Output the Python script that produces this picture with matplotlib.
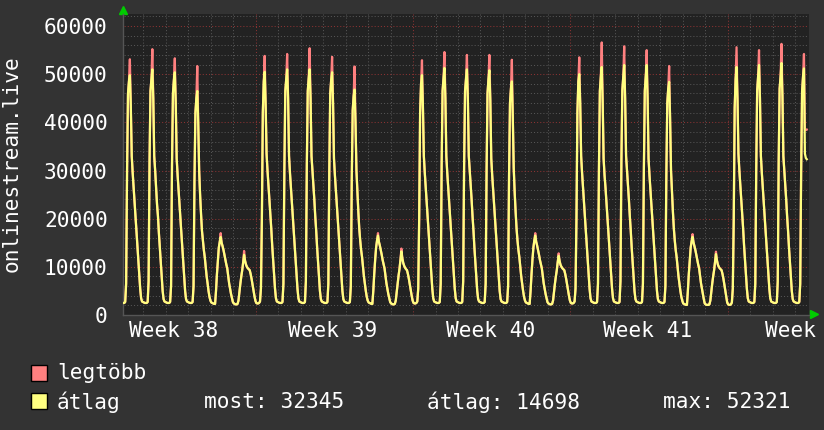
import numpy as np
import matplotlib.pyplot as plt

plt.rcParams['font.family'] = 'DejaVu Sans Mono'

# hourly averages in thousands, one row per day (day 0 = Monday of week 39)
first_day = -6
avg_rows = [
    [2.6, 2.5, 2.5, 2.5, 2.7, 6.5, 30.0, 46.0, 48.5, 49.8, 43.5, 33.0, 29.5, 26.5, 23.5, 20.5, 17.5, 14.5, 11.5, 8.5, 5.5, 3.5, 2.8, 2.7],  # Tue
    [2.6, 2.5, 2.5, 2.5, 2.7, 7.0, 32.0, 46.5, 49.0, 51.0, 45.0, 33.0, 30.0, 26.5, 23.0, 20.5, 17.0, 14.0, 11.0, 8.0, 5.0, 3.3, 2.8, 2.7],  # Wed
    [2.6, 2.5, 2.5, 2.5, 2.7, 6.0, 31.0, 46.0, 48.8, 50.4, 44.0, 32.5, 29.0, 26.0, 23.0, 20.0, 17.0, 14.0, 11.0, 8.0, 5.0, 3.3, 2.8, 2.7],  # Thu
    [2.6, 2.5, 2.5, 2.5, 2.7, 6.0, 28.0, 42.0, 45.0, 46.5, 40.0, 30.0, 25.0, 21.0, 17.5, 15.5, 13.5, 12.0, 10.0, 8.0, 6.6, 5.0, 3.8, 3.0],  # Fri
    [2.6, 2.5, 2.4, 2.3, 2.3, 5.0, 8.5, 11.4, 14.0, 15.2, 16.2, 15.0, 14.3, 13.5, 12.5, 11.4, 10.5, 9.7, 8.2, 6.6, 5.5, 4.4, 3.5, 2.7],  # Sat
    [2.4, 2.3, 2.2, 2.2, 2.3, 3.0, 4.8, 6.5, 8.0, 9.3, 11.0, 12.5, 11.3, 10.5, 10.0, 9.7, 9.5, 9.3, 8.5, 7.5, 6.3, 5.2, 4.0, 3.0],  # Sun
    [2.5, 2.4, 2.4, 2.5, 2.8, 5.5, 20.0, 42.0, 48.5, 50.5, 44.0, 33.5, 30.0, 27.0, 24.0, 21.0, 18.0, 14.5, 11.5, 8.5, 5.5, 3.5, 2.8, 2.7],  # Mon
    [2.6, 2.5, 2.5, 2.5, 2.7, 6.5, 30.0, 46.5, 49.0, 51.0, 45.0, 33.0, 29.5, 26.5, 23.5, 20.5, 17.5, 14.5, 11.5, 8.5, 5.5, 3.5, 2.8, 2.7],
    [2.6, 2.5, 2.5, 2.5, 2.7, 7.0, 31.0, 46.5, 49.2, 51.0, 45.0, 33.0, 30.0, 27.0, 24.0, 20.5, 17.5, 14.0, 11.0, 8.0, 5.0, 3.3, 2.8, 2.7],
    [2.6, 2.5, 2.5, 2.5, 2.7, 6.5, 30.0, 46.0, 48.8, 50.4, 44.0, 32.5, 29.0, 26.0, 23.0, 20.0, 17.0, 14.0, 11.0, 8.0, 5.0, 3.3, 2.8, 2.7],
    [2.6, 2.5, 2.5, 2.5, 2.7, 6.0, 28.0, 42.5, 45.5, 46.8, 40.0, 30.0, 25.5, 21.5, 18.0, 15.5, 13.5, 12.0, 10.0, 8.0, 6.5, 5.0, 3.8, 3.0],
    [2.6, 2.5, 2.4, 2.3, 2.3, 5.0, 8.5, 11.5, 14.0, 15.5, 16.5, 15.2, 14.4, 13.5, 12.5, 11.4, 10.5, 9.7, 8.2, 6.6, 5.5, 4.4, 3.5, 2.7],
    [2.4, 2.3, 2.2, 2.2, 2.3, 3.0, 4.8, 6.5, 8.2, 9.6, 11.5, 13.2, 11.8, 10.8, 10.2, 9.8, 9.5, 9.3, 8.5, 7.5, 6.3, 5.2, 4.0, 3.0],
    [2.5, 2.4, 2.4, 2.5, 2.8, 5.5, 20.0, 42.0, 48.0, 49.8, 43.5, 33.0, 29.5, 26.5, 23.5, 20.5, 17.5, 14.5, 11.5, 8.5, 5.5, 3.5, 2.8, 2.7],
    [2.6, 2.5, 2.5, 2.5, 2.7, 6.5, 31.0, 46.5, 49.2, 51.3, 45.0, 33.0, 29.5, 26.5, 23.5, 20.5, 17.5, 14.5, 11.5, 8.5, 5.5, 3.5, 2.8, 2.7],
    [2.6, 2.5, 2.5, 2.5, 2.7, 7.0, 31.0, 46.5, 49.0, 51.0, 45.0, 33.0, 30.0, 27.0, 24.0, 20.5, 17.5, 14.0, 11.0, 8.0, 5.0, 3.3, 2.8, 2.7],
    [2.6, 2.5, 2.5, 2.5, 2.7, 6.5, 30.0, 46.0, 49.0, 50.8, 44.5, 32.5, 29.0, 26.0, 23.0, 20.0, 17.0, 14.0, 11.0, 8.0, 5.0, 3.3, 2.8, 2.7],
    [2.6, 2.5, 2.5, 2.5, 2.7, 6.0, 29.0, 44.0, 47.0, 48.5, 41.0, 30.5, 25.5, 21.5, 18.0, 15.5, 13.5, 12.0, 10.0, 8.0, 6.5, 5.0, 3.8, 3.0],
    [2.6, 2.5, 2.4, 2.3, 2.3, 5.0, 8.5, 11.5, 14.0, 15.5, 16.5, 15.2, 14.4, 13.5, 12.5, 11.4, 10.5, 9.7, 8.2, 6.6, 5.5, 4.4, 3.5, 2.7],
    [2.4, 2.3, 2.2, 2.2, 2.3, 3.0, 4.8, 6.5, 8.0, 9.3, 11.0, 12.3, 11.2, 10.4, 10.0, 9.7, 9.5, 9.3, 8.5, 7.5, 6.3, 5.2, 4.0, 3.0],
    [2.5, 2.4, 2.4, 2.5, 2.8, 5.5, 20.0, 42.0, 48.5, 50.0, 44.0, 33.0, 29.5, 26.5, 23.5, 20.5, 17.5, 14.5, 11.5, 8.5, 5.5, 3.5, 2.8, 2.7],
    [2.6, 2.5, 2.5, 2.5, 2.7, 6.5, 30.0, 46.5, 49.5, 51.5, 44.0, 32.5, 29.0, 26.5, 23.5, 20.5, 17.5, 14.5, 11.5, 8.5, 5.5, 3.5, 2.8, 2.7],
    [2.6, 2.5, 2.5, 2.5, 2.7, 7.0, 32.0, 46.7, 49.5, 51.9, 45.0, 33.0, 30.0, 27.0, 24.0, 20.5, 17.5, 14.0, 11.0, 8.0, 5.0, 3.3, 2.8, 2.7],
    [2.6, 2.5, 2.5, 2.5, 2.7, 6.5, 30.0, 46.5, 49.5, 51.9, 45.0, 32.5, 29.0, 26.0, 23.0, 20.0, 17.0, 14.0, 11.0, 8.0, 5.0, 3.3, 2.8, 2.7],
    [2.6, 2.5, 2.5, 2.5, 2.7, 6.0, 29.0, 44.0, 47.0, 48.4, 41.0, 30.0, 25.5, 21.5, 18.0, 15.5, 13.5, 12.0, 10.0, 8.0, 6.5, 5.0, 3.8, 3.0],
    [2.4, 2.3, 2.2, 2.1, 2.1, 5.0, 8.5, 11.4, 14.0, 15.3, 16.25, 15.1, 14.3, 13.5, 12.5, 11.4, 10.5, 9.7, 8.2, 6.6, 5.5, 4.4, 3.3, 2.4],
    [2.2, 2.1, 2.1, 2.1, 2.2, 3.0, 4.8, 6.5, 8.0, 9.3, 11.0, 12.66, 11.4, 10.5, 10.0, 9.7, 9.5, 9.3, 8.5, 7.5, 6.3, 5.2, 3.8, 2.6],
    [2.2, 2.1, 2.1, 2.2, 2.6, 5.5, 20.0, 43.0, 49.0, 51.5, 45.0, 33.5, 30.0, 27.0, 24.0, 21.0, 18.0, 14.5, 11.5, 8.5, 5.5, 3.5, 2.8, 2.7],
    [2.6, 2.5, 2.5, 2.5, 2.7, 6.5, 30.0, 46.5, 49.5, 51.9, 45.0, 33.0, 29.5, 26.5, 23.5, 20.5, 17.5, 14.5, 11.5, 8.5, 5.5, 3.5, 2.8, 2.7],
    [2.6, 2.5, 2.5, 2.5, 2.7, 7.0, 32.0, 47.0, 49.5, 52.321, 45.5, 33.0, 30.0, 27.0, 24.0, 20.5, 17.5, 14.0, 11.0, 8.0, 5.0, 3.3, 2.8, 2.7],
    [2.6, 2.5, 2.5, 2.5, 2.7, 6.5, 30.0, 46.5, 49.5, 51.2, 33.5, 32.6, 32.345],  # last, partial day
]
# daily maximum at the peak hour (thousands)
max_peaks = [53.1, 55.2, 53.3, 51.7, 17.0, 13.3,
             53.8, 54.2, 55.4, 53.6, 51.6, 17.0, 13.8,
             52.9, 54.6, 54.0, 54.0, 53.0, 17.0, 12.8,
             53.5, 56.6, 55.8, 55.0, 51.7, 16.8, 13.15,
             55.6, 55.0, 56.3, 54.2]
last_max_tail = [38.6, 38.4, 38.5]

week_labels = ['Week 38', 'Week 39', 'Week 40', 'Week 41', 'Week']
week_label_days = [-3.64, 3.40, 10.43, 17.42, 23.79]

now_value = 32345
mean_value = 14698
max_value = 52321

t, avg, mx = [], [], []
for i, row in enumerate(avg_rows):
    d = first_day + i
    peak_h = int(np.argmax(row))
    for h, v in enumerate(row):
        t.append(d + (h + 0.5) / 24)
        avg.append(v * 1000)
        mx.append(max_peaks[i] * 1000 if h == peak_h else v * 1000)
for k, v in enumerate(last_max_tail):
    mx[-len(last_max_tail) + k] = v * 1000

W, H = 824, 430
fig = plt.figure(figsize=(W / 100, H / 100), dpi=100, facecolor='#333333')
ax = fig.add_axes([123 / W, 1 - 315 / H, 686 / W, 301 / H])
ax.set_facecolor('#222222')
ax.set_xlim(-5.91, 24.62)
ax.set_ylim(0, 62500)

# grid: minor every day / 2000, major every week / 10000
dot = (0, (1, 2))
days = np.arange(-5, 25)
ax.vlines(days[days % 7 != 0], 0, 62500, colors='#555555', lw=0.75, linestyles=dot, zorder=1)
ax.vlines(days[days % 7 == 0], 0, 62500, colors='#8a3333', lw=0.75, linestyles=dot, zorder=1)
levels = np.arange(2000, 62001, 2000)
ax.hlines(levels[levels % 10000 != 0], -6, 25, colors='#555555', lw=0.75, linestyles=dot, zorder=1)
ax.hlines(levels[levels % 10000 == 0], -6, 25, colors='#8a3333', lw=0.75, linestyles=dot, zorder=1)

ax.plot(t, mx, color='#ff8080', lw=1.6, zorder=3)
ax.plot(t, avg, color='#ffff80', lw=1.6, zorder=4)

for s in ['top', 'right']:
    ax.spines[s].set_visible(False)
for s in ['left', 'bottom']:
    ax.spines[s].set_color('#555555')
    ax.spines[s].set_linewidth(1)

ax.set_yticks(np.arange(0, 60001, 10000))
ax.set_yticklabels([str(v) for v in range(0, 60001, 10000)])
ax.set_xticks(week_label_days)
ax.set_xticklabels(week_labels)
ax.tick_params(axis='y', length=0, pad=11, labelsize=15.2, labelcolor='white')
ax.tick_params(axis='x', length=0, pad=4, labelsize=15.2, labelcolor='white')

# green axis arrows
ax.plot([0], [1.013], marker='^', color='#00cc00', ms=6, transform=ax.transAxes, clip_on=False)
ax.plot([1.0066], [0.002], marker='>', color='#00cc00', ms=6, transform=ax.transAxes, clip_on=False)

fig.text(12 / W, 1 - 164 / H, 'onlinestream.live', rotation=90, ha='center', va='center',
         color='white', fontsize=15.2)

# legend
fig.patches.append(plt.Rectangle((31 / W, 1 - 381 / H), 16 / W, 16 / H, transform=fig.transFigure,
                                 facecolor='#ff8080', edgecolor='black', lw=1))
fig.patches.append(plt.Rectangle((31 / W, 1 - 409 / H), 16 / W, 16 / H, transform=fig.transFigure,
                                 facecolor='#ffff80', edgecolor='black', lw=1))
fig.text(57 / W, 1 - 373 / H, 'legtöbb', color='white', fontsize=15.2, va='center')
fig.text(57 / W, 1 - 402 / H, 'átlag', color='white', fontsize=15.2, va='center')
fig.text(204 / W, 1 - 402 / H, 'most: %d' % now_value, color='white', fontsize=15.2, va='center')
fig.text(427 / W, 1 - 402 / H, 'átlag: %d' % mean_value, color='white', fontsize=15.2, va='center')
fig.text(663 / W, 1 - 402 / H, 'max: %d' % max_value, color='white', fontsize=15.2, va='center')

fig.savefig('out.png', dpi=100, facecolor=fig.get_facecolor())
